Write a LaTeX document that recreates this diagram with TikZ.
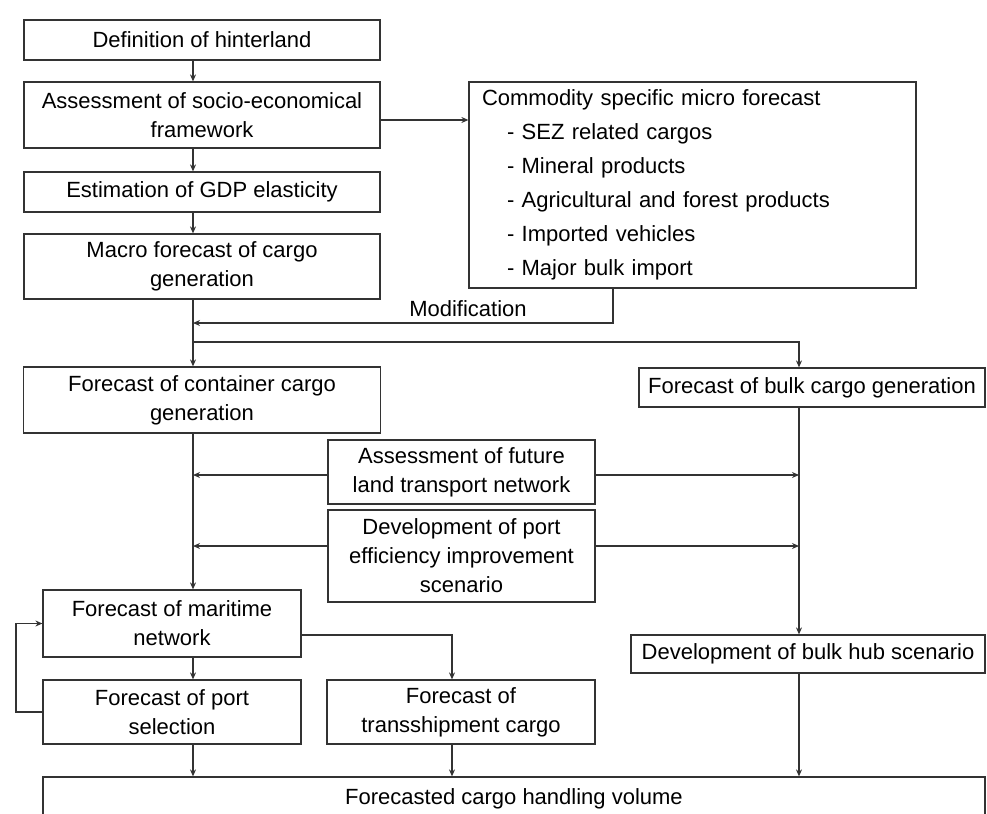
\documentclass[tikz,border=0pt]{standalone}
\usepackage{fontspec}
\setmainfont{Liberation Sans}
\usetikzlibrary{arrows.meta}

\tikzset{
	box/.style = {draw = black!80, line width = 0.6pt, inner sep = 1pt, align = center,
		font = \fontsize{11}{14.5}\selectfont},
	lbl/.style = {inner sep = 1pt, font = \fontsize{11}{14.5}\selectfont},
	flow/.style = {draw = black!80, line width = 0.6pt, -{Stealth[length = 3.5pt, width = 3pt]}},
}

\begin{document}
\begin{tikzpicture}[x = 0.5pt, y = -0.5pt]

	\clip (0, 0) rectangle (987, 814);

	% left column:
	\node[box, minimum width = 178pt, minimum height = 20pt] (hint) at (202, 40) {Definition of hinterland};
	\node[box, minimum width = 178pt, minimum height = 33pt] (socio) at (202, 115) {Assessment of socio-economical\\framework};
	\node[box, minimum width = 178pt, minimum height = 20pt] (gdp) at (202, 192) {Estimation of GDP elasticity};
	\node[box, minimum width = 178pt, minimum height = 32.5pt] (macro) at (202, 266.5) {Macro forecast of cargo\\generation};

	% micro forecast
	\node[box, align = left, text width = 210.5pt, inner xsep = 6.5pt, minimum height = 103pt,
		font = \fontsize{11}{17}\selectfont] (micro) at (692.5, 185) {Commodity specific micro forecast\\
		\hspace*{12.5pt}- SEZ related cargos\\
		\hspace*{12.5pt}- Mineral products\\
		\hspace*{12.5pt}- Agricultural and forest products\\
		\hspace*{12.5pt}- Imported vehicles\\
		\hspace*{12.5pt}- Major bulk import};
	\node[lbl] (modlbl) at (468, 309) {Modification};

	% cargo generation:
	\node[box, minimum width = 178.5pt, minimum height = 33pt] (cont) at (202, 400) {Forecast of container cargo\\generation};
	\node[box, minimum width = 173pt, minimum height = 19.5pt] (bulk) at (812, 387.5) {Forecast of bulk cargo generation};
	\node[box, minimum width = 133.5pt, minimum height = 32pt] (land) at (461.5, 472) {Assessment of future\\land transport network};
	\node[box, minimum width = 133.5pt, minimum height = 46pt] (peff) at (461.5, 556) {Development of port\\efficiency improvement\\scenario};

	% network and ports
	\node[box, minimum width = 129pt, minimum height = 33.5pt] (mari) at (172, 623.5) {Forecast of maritime\\network};
	\node[box, minimum width = 129pt, minimum height = 32pt] (psel) at (172, 712) {Forecast of port\\selection};
	\node[box, minimum width = 134pt, minimum height = 32pt] (trans) at (461, 712) {Forecast of\\transshipment cargo};
	\node[box, minimum width = 177pt, minimum height = 19pt] (hub) at (808, 654) {Development of bulk hub scenario};
	\node[box, minimum width = 471pt, minimum height = 22pt] (final) at (514, 799) {Forecasted cargo handling volume};

	% lines:
	\coordinate (sp) at (193, 0);
	\coordinate (bx) at (799, 0);
	\coordinate (tx) at (452, 0);
	\coordinate (lp) at (16, 0);
	\coordinate (mod) at (613, 323);
	\coordinate (br) at (193, 342);

	\draw[flow] (hint.south -| sp) -- (socio.north -| sp);
	\draw[flow] (socio.south -| sp) -- (gdp.north -| sp);
	\draw[flow] (gdp.south -| sp) -- (macro.north -| sp);
	\draw[flow] ([yshift = -2.5pt]socio.east) -- ([yshift = -2.5pt]socio.east -| micro.west);
	\draw[flow] (micro.south -| mod) -- (mod) -- (mod -| sp);
	\draw[flow] (macro.south -| sp) -- (cont.north -| sp);
	\draw[flow] (br) -| (bulk.north -| bx);

	\draw[flow] ([yshift = -1.5pt]land.west) -- ([yshift = -1.5pt]land.west -| sp);
	\draw[flow] ([yshift = -1.5pt]land.east) -- ([yshift = -1.5pt]land.east -| bx);
	\draw[flow] ([yshift = 5pt]peff.west) -- ([yshift = 5pt]peff.west -| sp);
	\draw[flow] ([yshift = 5pt]peff.east) -- ([yshift = 5pt]peff.east -| bx);
	\draw[flow] (cont.south -| sp) -- (mari.north -| sp);
	\draw[flow] (bulk.south -| bx) -- (hub.north -| bx);

	\draw[flow] (mari.south -| sp) -- (psel.north -| sp);
	\draw[flow] ([yshift = -5.75pt]mari.east) -| (trans.north -| tx);
	\draw[flow] (psel.west) -- (psel.west -| lp) |- (mari.west);
	\draw[flow] (psel.south -| sp) -- (final.north -| sp);
	\draw[flow] (trans.south -| tx) -- (final.north -| tx);
	\draw[flow] (hub.south -| bx) -- (final.north -| bx);
\end{tikzpicture}
\end{document}
